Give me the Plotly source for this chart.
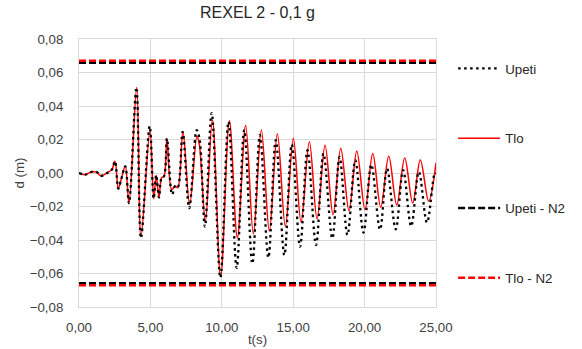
import plotly.graph_objects as go

# ---- data ----
t_tlo = [0, 0.42, 0.89, 1.24, 1.54, 2.05, 2.3, 2.52, 2.75, 2.94, 3.24, 3.5, 4.04, 4.34,
         4.97, 5.23, 5.41, 5.6, 5.79, 5.95, 6.16, 6.49, 6.75, 6.92, 7.28, 7.75, 8.26, 8.43,
         8.85, 9.34, 9.92, 10.53, 11.09, 11.67, 12.21, 12.77, 13.33, 13.89, 14.45, 15.01,
         15.55, 16.13, 16.67, 17.23, 17.79, 18.33, 18.91, 19.45, 20.03, 20.57, 21.13, 21.69,
         22.25, 22.81, 23.37, 23.9, 24.49, 25.0]
d_tlo = [0, -0.001, 0.0007, 0.0005, -0.0017, 0.0005, 0.002, 0.007, -0.0093, -0.0043, 0.004,
         -0.018, 0.051, -0.038, 0.0256, -0.0153, -0.0013, -0.0146, -0.0027, -0.002, 0.0206,
         -0.0098, -0.0078, -0.0088, 0.0246, -0.0188, 0.022, 0.017, -0.0288, 0.0318, -0.062,
         0.0312, -0.0386, 0.0284, -0.0364, 0.0256, -0.0347, 0.0234, -0.0318, 0.0208, -0.0294,
         0.0186, -0.0274, 0.0166, -0.0249, 0.0148, -0.0226, 0.0132, -0.0219, 0.0116, -0.0204,
         0.0100, -0.0191, 0.009, -0.0179, 0.0078, -0.0169, 0.006]

t_upeti = [0, 0.42, 0.89, 1.24, 1.54, 2.05, 2.3, 2.52, 2.75, 2.94, 3.24, 3.5, 4.02, 4.34,
           4.95, 5.23, 5.41, 5.6, 5.79, 5.95, 6.16, 6.52, 6.75, 6.92, 7.26, 7.72, 8.24, 8.43,
           8.82, 9.29, 9.9, 10.47, 11.04, 11.57, 12.14, 12.67, 13.26, 13.78, 14.38, 14.9,
           15.48, 16.0, 16.6, 17.12, 17.74, 18.25, 18.8, 19.35, 19.92, 20.47, 21.08, 21.57,
           22.18, 22.7, 23.26, 23.8, 24.37, 24.92, 25.0]
d_upeti = [0, -0.001, 0.0007, 0.0005, -0.0017, 0.0005, 0.002, 0.007, -0.0093, -0.0043, 0.004,
           -0.018, 0.051, -0.0388, 0.028, -0.0153, -0.0013, -0.0146, -0.0027, -0.002, 0.0206,
           -0.0128, -0.0075, -0.0085, 0.0246, -0.021, 0.0256, 0.021, -0.032, 0.0358, -0.0625,
           0.0306, -0.0567, 0.0256, -0.054, 0.0226, -0.0505, 0.0196, -0.049, 0.017, -0.044,
           0.0136, -0.043, 0.0116, -0.039, 0.0096, -0.037, 0.0076, -0.0356, 0.005, -0.0338,
           0.0027, -0.0336, 0.0017, -0.0318, 0.0007, -0.0296, 0.0, -0.0005]

t_limits = [0, 25]
upeti_n2 = 0.0658
tlo_n2 = 0.067

x_ticks = [0, 5, 10, 15, 20, 25]
y_ticks = [-0.08, -0.06, -0.04, -0.02, 0.0, 0.02, 0.04, 0.06, 0.08]

fig = go.Figure()

fig.add_trace(go.Scatter(x=t_tlo, y=d_tlo, mode="lines", name="Tlo",
                         line=dict(color="#ff0000", width=1.5, shape="spline", smoothing=1),
                         legendgroup="b", legendrank=2))
fig.add_trace(go.Scatter(x=t_upeti, y=d_upeti, mode="lines", name="Upeti",
                         line=dict(color="#000000", width=2.3, dash="2.5px,3.5px",
                                   shape="spline", smoothing=1),
                         legendgroup="a", legendrank=1))

for sign, show in [(1, True), (-1, False)]:
    fig.add_trace(go.Scatter(x=t_limits, y=[sign * upeti_n2] * 2, mode="lines",
                             name="Upeti - N2", showlegend=show, legendgroup="c",
                             legendrank=3,
                             line=dict(color="#000000", width=2.5, dash="7px,3px")))
for sign, show in [(1, True), (-1, False)]:
    fig.add_trace(go.Scatter(x=t_limits, y=[sign * tlo_n2] * 2, mode="lines",
                             name="Tlo - N2", showlegend=show, legendgroup="d",
                             legendrank=4,
                             line=dict(color="#ff0000", width=2.5, dash="7px,3px")))

axis_common = dict(showgrid=True, gridcolor="#d9d9d9", gridwidth=1, zeroline=False,
                   showline=True, linecolor="#d9d9d9", linewidth=1, mirror=True,
                   ticks="", tickfont=dict(size=13.3, color="#404040"))

fig.update_layout(
    width=582, height=349,
    margin=dict(l=79, r=146, t=39, b=42, autoexpand=False),
    paper_bgcolor="white", plot_bgcolor="white",
    separators=",.",
    font=dict(family="Liberation Sans, Arial, sans-serif", size=13.3, color="#404040"),
    title=dict(text="REXEL 2 - 0,1 g", xref="paper", x=0.5, xanchor="center",
               y=0.965, yanchor="middle",
               font=dict(size=16, color="#262626")),
    xaxis=dict(range=[0, 25], tickvals=x_ticks, tickformat=".2f",
               title=dict(text="t(s)", standoff=0, font=dict(size=13.3, color="#404040")),
               ticklabelstandoff=8, **axis_common),
    yaxis=dict(range=[-0.08, 0.08], tickvals=y_ticks, tickformat=".2f",
               title=dict(text="d (m)", standoff=2, font=dict(size=13.3, color="#404040")),
               ticklabelstandoff=12, **axis_common),
    legend=dict(x=1.048, xanchor="left", y=0.947, yanchor="top", tracegroupgap=49.5,
                itemwidth=42, font=dict(size=13.3, color="#262626"),
                bgcolor="rgba(0,0,0,0)"),
    showlegend=True,
)

fig.write_html("out.html", config={"displayModeBar": False},
               post_script="document.body.style.margin='0';")
